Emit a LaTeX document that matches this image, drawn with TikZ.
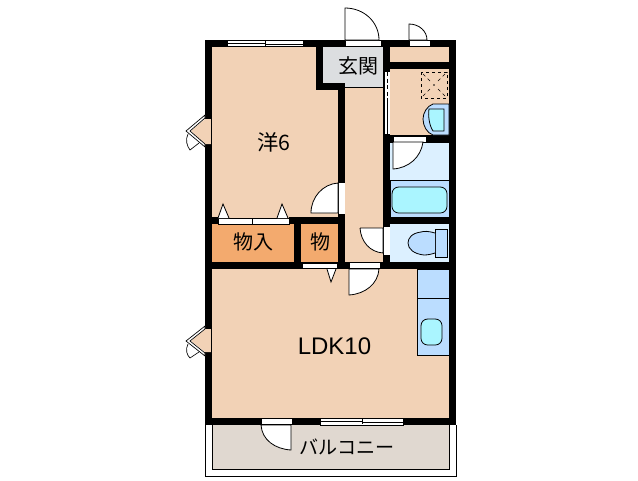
\documentclass[tikz,border=0pt]{standalone}
\usepackage{fontspec}
\setmainfont{Liberation Sans}
\newfontfamily\cjk{Noto Sans CJK JP}

\tikzset{every picture/.style={line width=0.75pt}}
\tikzset{
  wall/.style={fill=black},
  room/.style={fill={rgb, 255:red, 242; green, 210; blue, 182 }},
  closet/.style={fill={rgb, 255:red, 243; green, 170; blue, 110 }},
  entry/.style={fill={rgb, 255:red, 220; green, 222; blue, 224 }},
  pale/.style={fill={rgb, 255:red, 220; green, 240; blue, 255 }},
  wet/.style={draw=black, line width=0.6pt, fill={rgb, 255:red, 187; green, 221; blue, 255 }},
  basin/.style={draw=black, line width=0.6pt, fill={rgb, 255:red, 170; green, 245; blue, 255 }},
  opening/.style={draw=black, line width=0.5pt, fill=white},
  leaf/.style={draw=black, line width=0.6pt, fill=white},
  thin/.style={draw=black, line width=0.5pt},
  label/.style={inner sep=0.75pt, font=\fontsize{15}{15}\cjk},
}

\begin{document}
\begin{tikzpicture}[x=0.75pt,y=0.75pt,yscale=-1,xscale=1]
\useasboundingbox (0,0) rectangle (638,480);

%Shape: Balcony
\draw [line width=0.6pt, fill=white] (205,425) -- (205,476) -- (456,476) -- (456,425) ;
\draw [line width=0.6pt, fill={rgb, 255:red, 224; green, 216; blue, 208 }] (212,425) -- (212,469) -- (449,469) -- (449,425) ;
%Shape: Rooms
\fill [room] (205,40) rectangle (456,425) ;
\fill [closet] (212,224) rectangle (294,262) ;
\fill [closet] (301,224) rectangle (338,262) ;
\fill [entry] (323,47) rectangle (383,87) ;
\draw [thin] (338,87) -- (383,87) ;
\fill [pale] (390,143) rectangle (449,180) ;
\fill [pale] (390,224) rectangle (449,262) ;
\draw [wet] (390,180) rectangle (449,217) ;

%Shape: Walls
\fill [wall] (205,40) rectangle (456,47) ;
\fill [wall] (205,40) rectangle (212,425) ;
\fill [wall] (449,40) rectangle (456,425) ;
\fill [wall] (205,418) rectangle (456,425) ;
\fill [wall] (205,262) rectangle (456,269) ;
\fill [wall] (316,40) rectangle (323,90) ;
\fill [wall] (316,83) rectangle (345,90) ;
\fill [wall] (338,83) rectangle (345,269) ;
\fill [wall] (289,217) rectangle (345,224) ;
\fill [wall] (205,217) rectangle (218,224) ;
\fill [wall] (294,217) rectangle (301,269) ;
\fill [wall] (383,40) rectangle (390,269) ;
\fill [wall] (390,62) rectangle (449,69) ;
\fill [wall] (390,135) rectangle (449,143) ;
\fill [wall] (390,217) rectangle (449,224) ;

%Shape: Window, north
\draw [opening] (227,40) rectangle (303,46.5) ;
\draw [thin] (227,43) -- (265,43) ;
\draw [thin] (265,44) -- (303,44) ;
\draw [thin] (265,41) -- (265,46) ;
%Shape: Window, south
\draw [opening] (320,418.5) rectangle (403,425) ;
\draw [thin] (320,421.5) -- (362,421.5) ;
\draw [thin] (362,422.5) -- (403,422.5) ;
\draw [thin] (362,419) -- (362,424) ;
%Shape: Sliding door
\fill [white] (384,72) rectangle (390,134) ;
\draw [thin, dash pattern={on 3pt off 2pt}] (387,72) -- (387,98) ;
\draw [thin] (387,98) -- (387,134) ;
\draw [thin] (384,72) -- (384,134) ;

%Shape: Entrance door
\draw [opening] (345,40) rectangle (381,46) ;
\draw [leaf] (345,40) -- (345,8) .. controls (364,8) and (379,22) .. (379,40) -- cycle ;
%Shape: Door, closet north
\draw [opening] (409,40) rectangle (430,46) ;
\draw [leaf] (409,40) -- (409,24) .. controls (419,24) and (427,31) .. (427,40) -- cycle ;
%Shape: Door, western room
\fill [white] (338.5,183) rectangle (345,214) ;
\draw [leaf] (311,213) .. controls (311,197) and (323,184) .. (338,183) -- (338,213) -- cycle ;
%Shape: Door, bath
\draw [opening] (393,136) rectangle (426,142) ;
\draw [leaf] (393,142) -- (393,169) .. controls (409,168) and (421,157) .. (423,142) -- cycle ;
%Shape: Door, toilet
\fill [white] (383.5,227) rectangle (390,255) ;
\draw [leaf] (360,228) -- (383,228) -- (383,253) .. controls (370,252) and (361,242) .. (360,228) ;
%Shape: Door, LDK
\draw [opening] (349,262.5) rectangle (380,268.5) ;
\draw [leaf] (349,269) -- (349,295) .. controls (365,294) and (378,284) .. (379,269) -- cycle ;
%Shape: Door, balcony
\draw [opening] (261,418.5) rectangle (292,424.5) ;
\draw [leaf] (291,425) -- (291,450) .. controls (275,449) and (262,440) .. (261,425) -- cycle ;

%Shape: Closet doors
\draw [opening] (218,218) rectangle (252.5,224) ;
\draw [opening] (252.5,218) rectangle (289,224) ;
\draw [leaf] (218,218) -- (223,204) -- (229,218) ;
\draw [leaf] (277,218) -- (282,204) -- (288,218) ;
\draw [opening] (302,263) rectangle (337,268.5) ;
\draw [leaf] (327,269) -- (331,282) -- (336,269) ;

%Shape: Side doors
\fill [room] (205,119) -- (191,131) -- (205,144) -- (211,144) -- (211,119) -- cycle ;
\draw [thin] (211,119) -- (211,144) ;
\draw [thin, fill=white] (205,115) -- (186,131) -- (205,147) -- (205,144) -- (190,131) -- (205,118) -- cycle ;
\draw [thin] (188,134) .. controls (185,140) and (187,146) .. (190,150) -- (199,143) ;
\fill [room] (205,329) -- (191,341) -- (205,352) -- (211,352) -- (211,329) -- cycle ;
\draw [thin] (211,329) -- (211,352) ;
\draw [thin, fill=white] (205,326) -- (186,341) -- (205,356) -- (205,353) -- (190,341) -- (205,329) -- cycle ;
\draw [thin] (188,344) .. controls (185,350) and (187,355) .. (190,358) -- (199,352) ;

%Shape: Washer
\draw [thin, dash pattern={on 2.5pt off 2pt}] (421,72) rectangle (447,98) ;
\draw [thin, dash pattern={on 2.5pt off 2.5pt}] (423,74) -- (430,81) (438,89) -- (445,96) (445,74) -- (438,81) (430,89) -- (423,96) ;
\fill (434,85) circle (0.8) ;
%Shape: Wash basin
\draw [wet] (449,104) -- (433,104) .. controls (427,106) and (423,113) .. (423,119) .. controls (423,126) and (427,133) .. (433,135) -- (449,135) -- cycle ;
\draw [basin] (429,109) -- (444,109) -- (444,131) -- (433,131) .. controls (429,125) and (428,115) .. (429,109) -- cycle ;
%Shape: Bath tub
\draw [basin, rounded corners=5pt] (392,187) rectangle (447,213) ;
%Shape: Toilet
\draw [wet] (435,229) rectangle (447,257) ;
\draw [wet] (435,233) .. controls (428,231) and (424,231) .. (421,232) .. controls (412,233) and (408,238) .. (408,243) .. controls (408,249) and (414,254) .. (424,255) .. controls (428,255) and (432,254) .. (435,253) ;
%Shape: Kitchen
\draw [wet] (417,269) rectangle (449,355) ;
\draw [thin] (417,298) -- (449,298) ;
\draw [basin, rounded corners=5pt] (421,319) rectangle (442,345) ;

% Text Node
\draw (274,142) node (western) [label, font=\fontsize{16}{16}\cjk]  {洋6};
% Text Node
\draw (358,66) node (genkan) [label]  {玄関};
% Text Node
\draw (253,242) node (storage) [label]  {物入};
% Text Node
\draw (320,242) node (storagetwo) [label]  {物};
% Text Node
\draw (334.5,346) node (ldk) [inner sep=0.75pt, font=\fontsize{18}{18}\selectfont]  {LDK10};
% Text Node
\draw (347,447) node (balcony) [label, font=\fontsize{14.3}{15}\cjk]  {バルコニー};

\end{tikzpicture}
\end{document}
